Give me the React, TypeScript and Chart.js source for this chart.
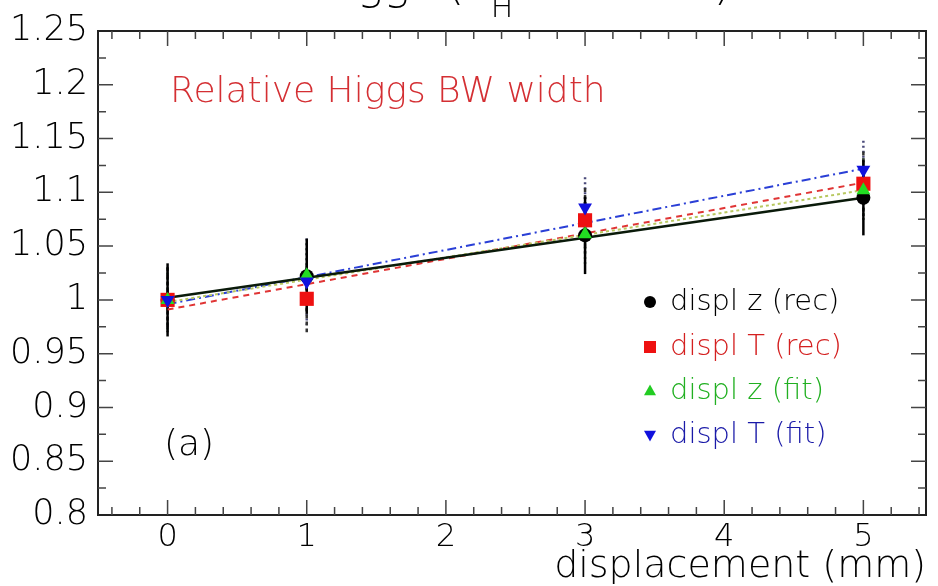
import React, { useEffect, useRef } from "react";
import { Chart, registerables } from "chart.js";
Chart.register(...registerables);

// ---- data ----
const xPositions = [0, 1, 3, 5];
const zRecValues = [1.0, 1.022, 1.06, 1.095];
const zRecErrors = [0.034, 0.035, 0.036, 0.035];
const tRecValues = [1.0, 1.001, 1.074, 1.108];
const tRecErrors = [0.03, 0.031, 0.03, 0.03];
const zFitValues = [1.0, 1.023, 1.061, 1.102];
const zFitErrors = [0.03, 0.03, 0.03, 0.03];
const tFitValues = [1.0, 1.017, 1.086, 1.121];
const tFitErrors = [0.03, 0.04, 0.028, 0.027];

const fitX = [0, 5];
const zRecFit = [1.002, 1.095];
const tRecFit = [0.991, 1.109];
const zFitFit = [0.998, 1.102];
const tFitFit = [0.996, 1.122];

const xTickValues = [0, 1, 2, 3, 4, 5];
const xTickLabels = ["0", "1", "2", "3", "4", "5"];
const yTickValues = [0.8, 0.85, 0.9, 0.95, 1.0, 1.05, 1.1, 1.15, 1.2, 1.25];
const yTickLabels = ["0.8", "0.85", "0.9", "0.95", "1", "1.05", "1.1", "1.15", "1.2", "1.25"];

const legendLabels = ["displ z (rec)", "displ T (rec)", "displ z (fit)", "displ T (fit)"];
const FONT = "'DejaVu Sans', sans-serif";
const W = "300";

const pts = (ys: number[]) => xPositions.map((x, i) => ({ x, y: ys[i] }));
const fitPts = (ys: number[]) => fitX.map((x, i) => ({ x, y: ys[i] }));

function drawMarker(ctx: CanvasRenderingContext2D, kind: string, x: number, y: number, color: string, r: number) {
  ctx.save();
  ctx.fillStyle = color;
  ctx.beginPath();
  if (kind === "circle") {
    ctx.arc(x, y, r, 0, Math.PI * 2);
  } else if (kind === "rect") {
    ctx.rect(x - r, y - r, 2 * r, 2 * r);
  } else if (kind === "tri") {
    ctx.moveTo(x, y - r * 1.1);
    ctx.lineTo(x + r, y + r * 0.7);
    ctx.lineTo(x - r, y + r * 0.7);
    ctx.closePath();
  } else {
    ctx.moveTo(x, y + r * 1.1);
    ctx.lineTo(x + r, y - r * 0.7);
    ctx.lineTo(x - r, y - r * 0.7);
    ctx.closePath();
  }
  ctx.fill();
  ctx.restore();
}

const errorBarPlugin = {
  id: "errorBars",
  beforeDatasetsDraw(chart: any) {
    const { ctx } = chart;
    const xs = chart.scales.x;
    const ys = chart.scales.y;
    const sets = [
      { v: tFitValues, e: tFitErrors, c: "#4a4a7a", d: [2, 3] },
      { v: zFitValues, e: zFitErrors, c: "#557755", d: [2, 3] },
      { v: tRecValues, e: tRecErrors, c: "#333333", d: [4, 3] },
      { v: zRecValues, e: zRecErrors, c: "#000000", d: [] },
    ];
    ctx.save();
    for (const s of sets) {
      ctx.strokeStyle = s.c;
      ctx.lineWidth = 2.5;
      ctx.setLineDash(s.d);
      xPositions.forEach((x, i) => {
        const px = xs.getPixelForValue(x);
        ctx.beginPath();
        ctx.moveTo(px, ys.getPixelForValue(s.v[i] + s.e[i]));
        ctx.lineTo(px, ys.getPixelForValue(s.v[i] - s.e[i]));
        ctx.stroke();
      });
    }
    ctx.restore();
  },
};

const framePlugin = {
  id: "frame",
  afterDraw(chart: any) {
    const { ctx, chartArea: a } = chart;
    const xs = chart.scales.x;
    const ys = chart.scales.y;
    ctx.save();
    ctx.strokeStyle = "#222";
    ctx.lineWidth = 2;
    ctx.strokeRect(a.left, a.top, a.right - a.left, a.bottom - a.top);
    ctx.lineWidth = 1.5;
    ctx.strokeStyle = "#444";
    ctx.beginPath();
    for (let v = -0.4; v <= 5.45; v += 0.2) {
      const r = Math.round(v * 10) / 10;
      const major = Math.abs(r - Math.round(r)) < 1e-6;
      const len = major ? 15 : 8;
      const px = xs.getPixelForValue(r);
      if (px <= a.left + 1 || px >= a.right - 1) continue;
      ctx.moveTo(px, a.bottom);
      ctx.lineTo(px, a.bottom - len);
      ctx.moveTo(px, a.top);
      ctx.lineTo(px, a.top + len);
    }
    for (let k = 0; k <= 18; k++) {
      const v = 0.8 + k * 0.025;
      const major = k % 2 === 0;
      const len = major ? 15 : 8;
      const py = ys.getPixelForValue(v);
      if (py <= a.top + 1 || py >= a.bottom - 1) continue;
      ctx.moveTo(a.left, py);
      ctx.lineTo(a.left + len, py);
      ctx.moveTo(a.right, py);
      ctx.lineTo(a.right - len, py);
    }
    ctx.stroke();

    // top (cut-off) title
    ctx.fillStyle = "#000";
    ctx.textBaseline = "alphabetic";
    ctx.textAlign = "left";
    ctx.font = `${W} 44px ${FONT}`;
    const t1 = "Higgs (Γ";
    const x0 = 312;
    ctx.fillText(t1, x0, -1);
    const w1 = ctx.measureText(t1).width;
    ctx.font = `${W} 30px ${FONT}`;
    ctx.fillText("H", x0 + w1 + 2, 17);
    const w2 = ctx.measureText("H").width;
    ctx.font = `${W} 44px ${FONT}`;
    ctx.fillText(" = 5 MeV)", x0 + w1 + w2 + 4, -1);

    // annotations
    ctx.font = `${W} 36px ${FONT}`;
    ctx.fillStyle = "#d42f33";
    ctx.fillText("Relative Higgs BW width", 170, 102);
    ctx.fillStyle = "#000";
    ctx.fillText("(a)", 164, 455);

    // legend
    const colors = ["#000000", "#ee1111", "#22cc22", "#1111dd"];
    const textColors = ["#000000", "#d42020", "#22b022", "#1a1aa8"];
    const kinds = ["circle", "rect", "tri", "inv"];
    const rows = [302, 347, 391, 435];
    ctx.font = `${W} 29px ${FONT}`;
    ctx.textBaseline = "middle";
    legendLabels.forEach((lab, i) => {
      drawMarker(ctx, kinds[i], 650, rows[i], colors[i], 6);
      ctx.fillStyle = textColors[i];
      ctx.fillText(lab, 670, rows[i]);
    });
    ctx.restore();
  },
};

export default function App() {
  const ref = useRef<HTMLCanvasElement | null>(null);
  useEffect(() => {
    if (!ref.current) return;
    const chart = new Chart(ref.current, {
      type: "scatter",
      data: {
        datasets: [
          {
            type: "line",
            data: fitPts(tFitFit),
            borderColor: "#2a3fd6",
            borderWidth: 2,
            borderDash: [9, 4, 2, 4],
            pointRadius: 0,
            showLine: true,
            order: 9,
          } as any,
          {
            type: "line",
            data: fitPts(tRecFit),
            borderColor: "#e03535",
            borderWidth: 2,
            borderDash: [6, 5],
            pointRadius: 0,
            showLine: true,
            order: 8,
          } as any,
          {
            type: "line",
            data: fitPts(zFitFit),
            borderColor: "#b8c860",
            borderWidth: 2,
            borderDash: [3, 3],
            pointRadius: 0,
            showLine: true,
            order: 7,
          } as any,
          {
            type: "line",
            data: fitPts(zRecFit),
            borderColor: "#0a1a0a",
            borderWidth: 2.5,
            pointRadius: 0,
            showLine: true,
            order: 6,
          } as any,
          {
            data: pts(zRecValues),
            pointStyle: "circle",
            pointRadius: 7,
            backgroundColor: "#000",
            borderColor: "#000",
            borderWidth: 0,
            order: 4,
          },
          {
            data: pts(tRecValues),
            pointStyle: "rect",
            pointRadius: 10,
            backgroundColor: "#ee1111",
            borderColor: "#ee1111",
            borderWidth: 0,
            order: 3,
          },
          {
            data: pts(zFitValues),
            pointStyle: "triangle",
            pointRadius: 8,
            backgroundColor: "#22dd22",
            borderColor: "#22dd22",
            borderWidth: 0,
            order: 2,
          },
          {
            data: pts(tFitValues),
            pointStyle: "triangle",
            rotation: 180,
            pointRadius: 8,
            backgroundColor: "#1111dd",
            borderColor: "#1111dd",
            borderWidth: 0,
            order: 1,
          },
        ],
      },
      options: {
        animation: false,
        responsive: false,
        devicePixelRatio: 1,
        layout: { padding: { top: 19, right: 12, left: 0, bottom: 0 } },
        plugins: { legend: { display: false }, tooltip: { enabled: false }, title: { display: false } },
        scales: {
          x: {
            type: "linear",
            min: -0.5,
            max: 5.45,
            afterFit: (s: any) => {
              s.height = 71;
            },
            afterBuildTicks: (s: any) => {
              s.ticks = xTickValues.map((v) => ({ value: v }));
            },
            ticks: {
              callback: (v: any) => xTickLabels[xTickValues.indexOf(Number(v))] ?? "",
              font: { family: FONT, size: 32, weight: W },
              color: "#000",
              padding: 3,
              maxRotation: 0,
            },
            grid: { display: false, drawTicks: false },
            border: { display: false },
            title: {
              display: true,
              text: "displacement (mm)",
              align: "end",
              color: "#000",
              font: { family: FONT, size: 38, lineHeight: 1.0, weight: W },
              padding: { top: 0, bottom: 0 },
            },
          },
          y: {
            type: "linear",
            min: 0.8,
            max: 1.25,
            afterFit: (s: any) => {
              s.width = 98;
            },
            afterBuildTicks: (s: any) => {
              s.ticks = yTickValues.map((v) => ({ value: v }));
            },
            ticks: {
              callback: (v: any) => {
                const i = yTickValues.findIndex((t) => Math.abs(t - Number(v)) < 1e-6);
                return i >= 0 ? yTickLabels[i] : "";
              },
              font: { family: FONT, size: 35, weight: W },
              color: "#000",
              padding: 10,
            },
            grid: { display: false, drawTicks: false },
            border: { display: false },
          },
        },
      },
      plugins: [errorBarPlugin, framePlugin],
    } as any);
    return () => chart.destroy();
  }, []);
  return (
    <div style={{ position: "fixed", left: 0, top: 0, width: 938, height: 586, background: "#fff" }}>
      <canvas ref={ref} width={938} height={586} style={{ display: "block", width: 938, height: 586 }} />
    </div>
  );
}
